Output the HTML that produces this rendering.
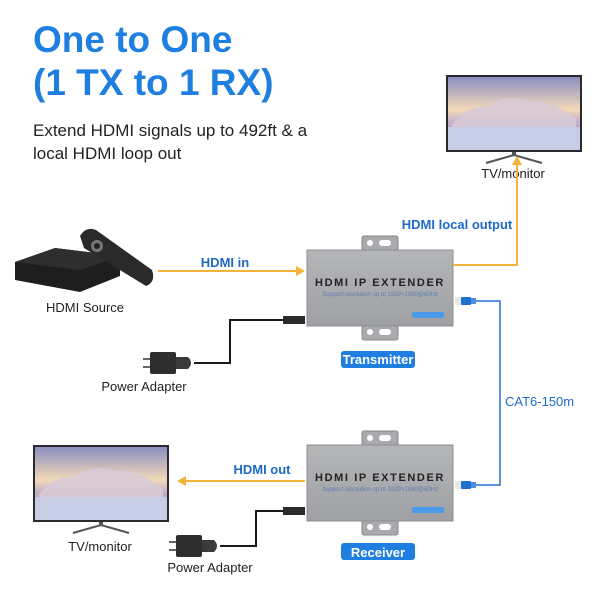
<!DOCTYPE html>
<html><head><meta charset="utf-8"><style>
body{margin:0;background:#fff}
svg{display:block}
text{font-family:"Liberation Sans",Arial,sans-serif}
</style></head><body>
<svg width="600" height="600" viewBox="0 0 600 600" xmlns="http://www.w3.org/2000/svg">
<defs>
<linearGradient id="sky" x1="0" y1="0" x2="0" y2="1">
<stop offset="0" stop-color="#8a8fc0"/><stop offset="0.45" stop-color="#f3d9b8"/><stop offset="0.6" stop-color="#c9b4c8"/><stop offset="1" stop-color="#7c86c4"/>
</linearGradient>
<linearGradient id="box" x1="0" y1="0" x2="0" y2="1">
<stop offset="0" stop-color="#b4b6b8"/><stop offset="1" stop-color="#9ea0a3"/>
</linearGradient>
<g id="tv">
<rect x="0" y="0" width="136" height="77" fill="#2a2a2e"/>
<rect x="2" y="2" width="132" height="73" fill="url(#sky)"/>
<path d="M6 50 Q20 30 40 32 Q60 18 85 26 Q105 24 130 44 L130 52 L6 52Z" fill="#d8cad6" opacity="0.9"/>
<rect x="2" y="52" width="132" height="23" fill="#c8cde6"/>
<path d="M40 88 L68 80 L96 88" fill="none" stroke="#555" stroke-width="2"/>
<rect x="66" y="77" width="4" height="4" fill="#555"/>
</g>
<g id="ext">
<rect x="55" y="-14" width="36" height="15" rx="2" fill="#a8aaad" stroke="#888"/>
<circle cx="63" cy="-7" r="3" fill="#fff"/><rect x="72" y="-10" width="12" height="6" rx="3" fill="#fff"/>
<rect x="55" y="75" width="36" height="15" rx="2" fill="#a8aaad" stroke="#888"/>
<circle cx="63" cy="82" r="3" fill="#fff"/><rect x="72" y="79" width="12" height="6" rx="3" fill="#fff"/>
<rect x="0" y="0" width="146" height="76" fill="url(#box)" stroke="#8d8f92"/>
<text x="73" y="36" font-size="11" font-weight="bold" fill="#222" text-anchor="middle" letter-spacing="1.6">HDMI IP EXTENDER</text>
<text x="73" y="46" font-size="6" fill="#5a7fb0" text-anchor="middle" font-style="italic">Support resolution up to 1920×1080@60Hz</text>
<rect x="105" y="62" width="32" height="6" rx="2" fill="#4a9ae8"/>
</g>
<g id="plug">
<rect x="0" y="0" width="26" height="22" rx="2" fill="#2e2e2e"/>
<rect x="-7" y="6" width="7" height="2" fill="#666"/><rect x="-7" y="14" width="7" height="2" fill="#666"/>
<path d="M26 5 L38 5 Q44 11 38 17 L26 17Z" fill="#3a3a3a"/>
</g>
<g id="rj">
<rect x="0" y="-4" width="6" height="8" fill="#e8e8e8"/>
<rect x="6" y="-4" width="10" height="8" rx="1" fill="#1e6fd0"/>
<rect x="16" y="-3" width="5" height="6" fill="#4a8ee0"/>
</g>
</defs>

<text x="33" y="52" font-size="37" font-weight="bold" fill="#1e7fe0">One to One</text>
<text x="33" y="95" font-size="37" font-weight="bold" fill="#1e7fe0">(1 TX to 1 RX)</text>
<text x="33" y="136" font-size="17" fill="#222">Extend HDMI signals up to 492ft &amp; a</text>
<text x="33" y="159" font-size="17" fill="#222">local HDMI loop out</text>

<use href="#tv" x="446" y="75"/>
<text x="513" y="178" font-size="13" fill="#222" text-anchor="middle">TV/monitor</text>

<use href="#tv" x="33" y="445"/>
<text x="100" y="551" font-size="13" fill="#222" text-anchor="middle">TV/monitor</text>

<!-- HDMI source -->
<path d="M15 262 L55 248 L120 256 L120 276 L80 292 L15 280Z" fill="#1e1e1e"/>
<path d="M15 262 L55 248 L120 256 L80 270Z" fill="#2e2e2e"/>
<path d="M80 236 Q86 226 96 230 L152 270 Q156 282 146 286 L84 248Z" fill="#2a2a2a"/>
<circle cx="97" cy="246" r="6" fill="#777"/><circle cx="97" cy="246" r="3" fill="#222"/>
<text x="85" y="312" font-size="13" fill="#222" text-anchor="middle">HDMI Source</text>

<!-- HDMI in -->
<line x1="158" y1="271" x2="300" y2="271" stroke="#f3b23a" stroke-width="2"/>
<path d="M305 271 L296 266 L296 276Z" fill="#f3b23a"/>
<text x="225" y="267" font-size="13" font-weight="bold" fill="#1d6ac8" text-anchor="middle">HDMI in</text>

<use href="#ext" x="307" y="250"/>
<rect x="341" y="351" width="74" height="17" rx="3" fill="#1e7fe0"/>
<text x="378" y="364" font-size="13" font-weight="bold" fill="#fff" text-anchor="middle">Transmitter</text>

<use href="#ext" x="307" y="445"/>
<rect x="341" y="543" width="74" height="17" rx="3" fill="#1e7fe0"/>
<text x="378" y="557" font-size="13" font-weight="bold" fill="#fff" text-anchor="middle">Receiver</text>

<!-- local output -->
<polyline points="453,265 517,265 517,162" fill="none" stroke="#f3b23a" stroke-width="2"/>
<path d="M517 156 L512 165 L522 165Z" fill="#f3b23a"/>
<text x="457" y="229" font-size="13" font-weight="bold" fill="#1d6ac8" text-anchor="middle">HDMI local output</text>

<!-- CAT6 -->
<use href="#rj" x="455" y="301"/>
<use href="#rj" x="455" y="485"/>
<polyline points="476,301 500,301 500,485 476,485" fill="none" stroke="#2a6fd0" stroke-width="1.5"/>
<text x="505" y="406" font-size="13" fill="#1d6ac8">CAT6-150m</text>

<!-- HDMI out -->
<line x1="305" y1="481" x2="184" y2="481" stroke="#f3b23a" stroke-width="2"/>
<path d="M177 481 L186 476 L186 486Z" fill="#f3b23a"/>
<text x="262" y="474" font-size="13" font-weight="bold" fill="#1d6ac8" text-anchor="middle">HDMI out</text>

<!-- power 1 -->
<use href="#plug" x="150" y="352"/>
<polyline points="194,363 230,363 230,320 285,320" fill="none" stroke="#1a1a1a" stroke-width="2"/>
<rect x="283" y="316" width="22" height="8" fill="#2a2a2a"/>
<text x="144" y="391" font-size="13" fill="#222" text-anchor="middle">Power Adapter</text>

<!-- power 2 -->
<use href="#plug" x="176" y="535"/>
<polyline points="220,546 256,546 256,511 285,511" fill="none" stroke="#1a1a1a" stroke-width="2"/>
<rect x="283" y="507" width="22" height="8" fill="#2a2a2a"/>
<text x="210" y="572" font-size="13" fill="#222" text-anchor="middle">Power Adapter</text>
</svg>
</body></html>
